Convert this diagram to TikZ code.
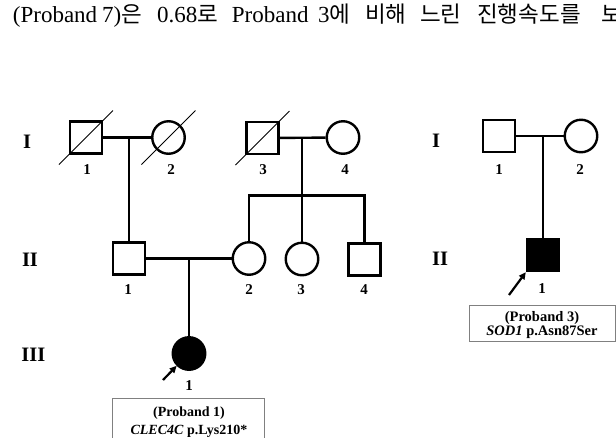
\documentclass[tikz,border=0pt]{standalone}
\usepackage{fontspec}
\setmainfont{Liberation Serif}
\newfontfamily\krfont{Noto Sans CJK KR}
\usetikzlibrary{arrows.meta}
\definecolor{boxgray}{HTML}{808080}
\newcommand\kr[1]{{\krfont\fontsize{22.5}{23}\selectfont #1}}
\begin{document}
\begin{tikzpicture}[x=1pt,y=-1pt,
  male/.style={draw,rectangle,minimum size=32pt,inner sep=0pt,line width=2.4pt},
  female/.style={draw,circle,minimum size=32.5pt,inner sep=0pt,line width=2.4pt},
  affected/.style={fill=black},
  idnum/.style={font=\fontsize{15}{15}\selectfont\bfseries,inner sep=0pt},
  genlabel/.style={font=\fontsize{20.5}{20.5}\selectfont\bfseries,inner sep=0pt},
  deceased/.style={line width=0.9pt},
  kin/.style={line width=2.4pt},
  probandarrow/.style={line width=2.2pt,-{Triangle[length=7pt,width=6.5pt]}},
  infobox/.style={draw=boxgray,line width=0.9pt,inner sep=0pt},
  boxtext/.style={inner sep=0pt,font=\fontsize{14.5}{14.5}\selectfont\bfseries},
  toptext/.style={inner sep=0pt,anchor=base west,font=\fontsize{23}{23}\selectfont}
]
\useasboundingbox (0,0) rectangle (616,437);
\clip (0,0) rectangle (616,437);

% ---- running text line ----
\node[toptext] (t1) at (12.7,22) {(Proband};
\node[toptext] (t2) at (102,22) {7)\kr{은}};
\node[toptext] (t3) at (157,22) {0.68\kr{로}};
\node[toptext] (t4) at (231.7,22) {Proband};
\node[toptext] (t5) at (318,22) {3\kr{에}};
\node[toptext] (t6) at (365,22) {\kr{비해}};
\node[toptext] (t7) at (420,22) {\kr{느린}};
\node[toptext] (t8) at (477,22) {\kr{진행속도를}};
\node[toptext] (t9) at (601,22) {\kr{보}};

% ---- family of proband 1 ----
\node[genlabel] (g1) at (27,142) {I};
\node[genlabel] (g2) at (30,259.5) {II};
\node[genlabel] (g3) at (33.3,355) {III};

\node[male]   (i1) at (86,137.5) {};
\node[female] (i2) at (168.5,137.5) {};
\node[male]   (i3) at (262.5,138) {};
\node[female] (i4) at (343,137.5) {};

\draw[deceased] ([shift={(-27,27)}]i1.center) -- ([shift={(27,-27)}]i1.center);
\draw[deceased] ([shift={(-27,27)}]i2.center) -- ([shift={(27,-27)}]i2.center);
\draw[deceased] ([shift={(-27,27)}]i3.center) -- ([shift={(27,-27)}]i3.center);

\node[idnum] (n11) at (87,169.5) {1};
\node[idnum] (n12) at (171,169.5) {2};
\node[idnum] (n13) at (263,169.5) {3};
\node[idnum] (n14) at (345,169.5) {4};

\node[male]   (ii1) at (129,258.5) {};
\node[female] (ii2) at (249,258.5) {};
\node[female] (ii3) at (302,259) {};
\node[male]   (ii4) at (364.5,259.5) {};

\node[idnum] (n21) at (128,290) {1};
\node[idnum] (n22) at (249,289.5) {2};
\node[idnum] (n23) at (301,289.5) {3};
\node[idnum] (n24) at (364,290) {4};

\node[female,affected] (iii1) at (189,353.5) {};
\node[idnum] (n31) at (189,385.5) {1};

\coordinate (m1) at (129,137.5);
\coordinate (m2) at (302,138);
\coordinate (m3) at (189,258.5);
\coordinate (sib) at (302,195.5);

\draw[kin] (i1) -- (i2);
\draw[kin] (m1) -- (ii1.north);
\draw[kin] (i3) -- (i4);
\draw[kin] (m2) -- (ii3.north);
\draw[kin] (ii2.north) |- (sib) -| (ii4.north);
\draw[kin] (ii1) -- (ii2);
\draw[kin] (m3) -- (iii1.north);

\coordinate (a1) at (163,380);
\draw[probandarrow] (a1) -- (iii1.225);

\node[infobox,minimum width=151.6pt,minimum height=50pt] (box1) at (188.5,423.3) {};
\node[boxtext,font=\fontsize{14}{14}\selectfont\bfseries] (b1a) at (189,413) {(Proband 1)};
\node[boxtext,font=\fontsize{14}{14}\selectfont\bfseries] (b1b) at (189,431) {\textit{CLEC4C} p.Lys210*};

% ---- family of proband 3 ----
\node[genlabel] (h1) at (436,140.7) {I};
\node[genlabel] (h2) at (440,258.7) {II};

\node[male]   (r1) at (499,136) {};
\node[female] (r2) at (581,136) {};
\node[male,affected] (rii1) at (543,255) {};

\node[idnum] (q11) at (499,169.5) {1};
\node[idnum] (q12) at (580,169.5) {2};
\node[idnum] (q21) at (542,288.5) {1};

\coordinate (m4) at (543,136);
\draw[kin] (r1) -- (r2);
\draw[kin] (m4) -- (rii1.north);

\coordinate (a2) at (509,295);
\draw[probandarrow] (a2) -- (rii1.south west);

\node[infobox,minimum width=146pt,minimum height=36pt] (box3) at (542,323) {};
\node[boxtext] (b3a) at (542,318.5) {(Proband 3)};
\node[boxtext] (b3b) at (542,332.5) {\textit{SOD1} p.Asn87Ser};
\end{tikzpicture}
\end{document}
